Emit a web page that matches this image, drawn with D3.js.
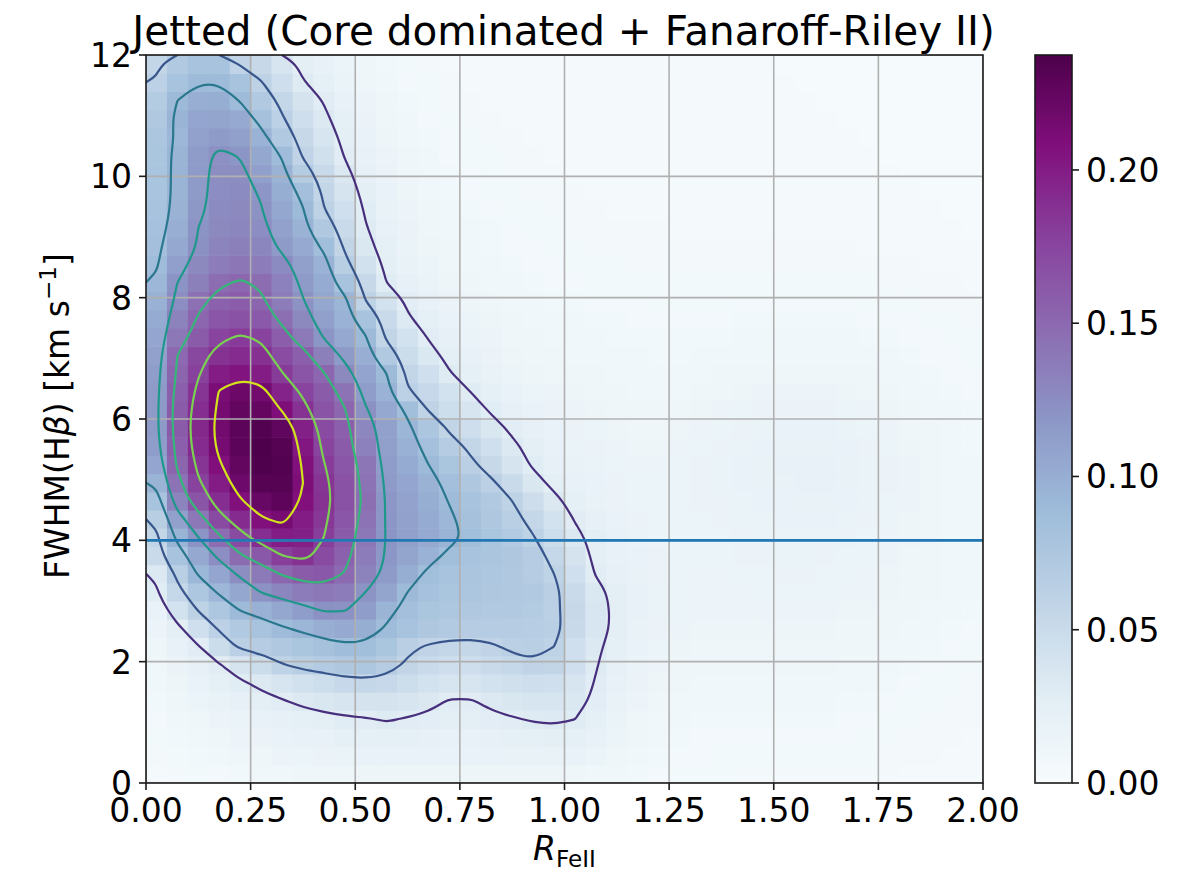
<!DOCTYPE html>
<html>
<head>
<meta charset="utf-8">
<script src="https://cdn.jsdelivr.net/npm/d3@7"></script>
<style>
  body { margin: 0; background: #ffffff; }
  text { font-family: "DejaVu Sans", sans-serif; fill: #000; }
</style>
</head>
<body>
<svg id="chart" width="1192" height="871"></svg>
<script>
// ---- data -------------------------------------------------------------
const titleText = "Jetted (Core dominated + Fanaroff-Riley II)";
const rFeIIDomain = [0, 2];
const fwhmDomain = [0, 12];
const xTicks = [0, 0.25, 0.5, 0.75, 1.0, 1.25, 1.5, 1.75, 2.0];
const yTicks = [0, 2, 4, 6, 8, 10, 12];
const cbarTicks = [0, 0.05, 0.10, 0.15, 0.20];
const cbarMax = 0.2375;
const contourLevels = [0.03, 0.06, 0.09, 0.12, 0.15, 0.18, 0.21];
const contourNormMax = 0.225;
const fwhmCut = 4;
// BuPu colour map anchors
const buPu = ["#f7fcfd", "#e0ecf4", "#bfd3e6", "#9ebcda", "#8c96c6",
              "#8c6bb1", "#88419d", "#810f7c", "#4d004b"];

// Density on a 40 x 40 grid (R_FeII bins of 0.05, FWHM bins of 0.3),
// in units of 1e-3; first row is the lowest FWHM bin.
const densityPerMille = [
  [4,5,6,7,8,9,10,11,12,12,13,13,13,13,13,13,13,13,13,13,12,10,9,8,7,6,6,6,5,5,5,5,5,5,5,5,4,4,4,4],
  [5,6,8,9,11,12,14,15,16,17,18,18,18,18,18,18,18,19,19,19,18,15,12,10,8,7,7,6,6,6,6,6,6,6,6,5,5,5,4,4],
  [6,8,10,12,14,16,18,20,21,23,24,24,23,22,21,21,22,23,24,25,24,20,15,11,9,8,7,7,7,7,7,7,7,7,6,6,5,5,5,4],
  [7,9,12,14,17,20,22,24,26,28,29,31,29,27,26,26,27,29,31,32,30,24,17,12,10,9,8,8,8,8,8,8,8,7,7,6,6,5,5,5],
  [8,11,15,19,22,26,29,33,36,38,40,40,38,34,29,29,33,36,38,38,35,27,19,14,11,10,9,9,9,9,9,9,9,8,8,7,6,6,5,5],
  [9,13,18,23,28,33,38,43,48,53,55,53,48,42,38,38,41,44,46,45,38,29,21,16,13,11,10,10,10,10,10,10,10,9,9,8,7,6,6,5],
  [10,16,22,29,39,49,59,66,70,74,75,68,57,50,46,46,50,54,58,57,45,31,22,17,14,12,11,11,11,11,11,11,11,10,10,9,8,7,6,6],
  [12,20,29,49,63,68,73,78,83,87,86,78,64,58,55,55,58,63,65,60,45,33,24,18,15,13,12,12,12,12,12,12,12,11,11,10,9,8,7,6],
  [14,26,45,62,72,80,88,94,99,103,100,88,80,74,70,68,68,68,67,65,51,37,26,19,16,14,13,13,13,13,13,13,13,12,12,11,10,9,8,7],
  [18,41,61,75,91,98,105,113,122,121,113,95,85,78,75,73,72,71,69,63,52,37,26,20,17,15,14,14,14,14,14,14,14,13,13,12,11,10,9,8],
  [28,54,75,93,105,121,130,137,140,136,120,108,90,82,78,76,74,73,71,64,50,35,25,21,17,15,14,14,14,15,15,15,15,14,14,13,12,11,10,9],
  [33,65,92,106,124,138,152,160,162,149,132,115,100,86,80,77,75,73,68,60,45,29,22,19,16,15,14,14,15,15,16,16,15,15,14,13,12,11,10,9],
  [50,80,104,125,148,162,180,187,172,156,136,118,108,97,86,80,77,74,68,54,40,26,21,18,16,15,15,15,16,16,17,17,16,15,15,14,12,11,10,9],
  [56,95,120,147,172,190,200,198,180,160,140,119,111,103,95,86,78,70,61,48,34,25,20,17,15,15,15,15,16,17,17,17,17,16,15,14,13,11,10,9],
  [66,110,140,172,192,208,214,200,184,163,143,118,110,102,93,83,74,65,55,42,29,22,18,16,15,15,15,16,17,17,18,18,18,17,16,15,13,12,10,9],
  [80,131,164,190,208,222,228,207,187,166,146,118,109,100,89,80,71,60,47,34,24,19,16,15,15,15,16,16,17,18,18,19,19,18,17,15,14,12,10,9],
  [95,143,177,200,219,232,232,210,185,166,143,116,106,96,85,74,63,50,36,26,21,18,16,15,15,15,16,17,18,19,19,20,20,19,17,16,14,12,10,9],
  [106,153,185,208,225,236,234,208,181,163,141,113,102,90,78,64,52,39,28,22,19,17,15,14,14,15,16,17,18,19,20,20,20,19,17,16,14,12,10,9],
  [113,157,191,214,229,237,232,203,176,160,133,111,98,84,68,56,45,33,25,20,17,16,14,13,13,14,15,16,17,18,19,19,19,18,16,15,13,11,10,8],
  [116,160,193,216,229,234,226,198,172,157,129,110,94,76,57,46,36,27,22,18,16,15,13,12,12,13,14,15,16,17,18,18,18,17,15,14,12,11,9,8],
  [116,160,190,214,225,224,209,187,165,151,122,104,86,59,48,38,28,22,18,16,14,13,12,11,11,12,13,14,15,16,16,16,16,15,14,13,11,10,9,8],
  [115,157,185,211,220,216,196,176,160,143,113,97,62,53,42,30,23,18,15,14,13,12,11,10,10,10,11,12,13,14,14,14,14,13,12,11,10,9,8,7],
  [113,153,178,200,205,200,181,164,151,128,107,90,56,45,31,24,19,15,13,12,11,11,10,9,9,9,10,11,11,12,12,12,12,11,11,10,9,8,7,7],
  [110,150,173,187,192,188,170,157,134,115,99,72,49,35,26,20,16,13,12,11,10,10,9,9,8,8,9,9,10,10,10,10,10,10,9,9,8,7,7,6],
  [106,140,160,176,182,177,158,139,119,104,91,57,42,29,22,17,14,12,11,10,9,9,8,8,8,8,8,8,9,9,9,9,9,9,8,8,7,7,6,6],
  [102,132,152,163,166,161,146,128,111,97,80,50,32,24,18,15,13,11,10,9,9,8,8,7,7,7,7,7,8,8,8,8,8,8,7,7,7,6,6,5],
  [98,125,145,156,159,153,137,121,105,94,60,42,27,20,16,13,11,10,9,8,8,7,7,7,6,6,6,6,7,7,7,7,7,7,6,6,6,5,5,5],
  [93,120,134,147,152,147,133,116,102,80,52,30,22,17,13,11,10,9,8,7,7,6,6,6,6,6,6,6,6,6,6,6,6,6,6,5,5,5,5,4],
  [88,112,128,137,141,137,126,111,97,66,43,26,19,15,12,10,9,8,7,7,6,6,6,5,5,5,5,5,5,5,5,5,5,5,5,5,5,4,4,4],
  [85,104,122,131,134,130,116,103,86,57,35,23,17,13,11,9,8,7,7,6,6,5,5,5,5,5,5,5,5,5,5,5,5,5,4,4,4,4,4,4],
  [82,99,120,128,130,125,110,96,73,50,31,21,16,12,10,9,8,7,6,6,5,5,5,5,5,4,4,4,4,4,4,4,4,4,4,4,4,4,4,3],
  [80,96,117,126,128,121,105,91,61,45,28,19,14,11,9,8,7,6,6,5,5,5,4,4,4,4,4,4,4,4,4,4,4,4,4,4,4,4,3,3],
  [79,95,116,125,126,118,100,85,56,39,25,18,13,10,8,7,6,6,5,5,5,4,4,4,4,4,4,4,4,4,4,4,4,4,4,4,4,3,3,3],
  [79,95,116,124,124,112,96,69,51,34,22,16,12,9,8,7,6,5,5,5,4,4,4,4,4,4,4,4,4,4,4,4,4,4,4,4,3,3,3,3],
  [78,95,114,123,119,105,88,58,44,29,20,14,11,9,7,6,6,5,5,4,4,4,4,4,4,4,4,4,4,4,4,4,4,4,4,3,3,3,3,3],
  [76,93,110,115,111,97,72,52,38,26,18,13,10,8,7,6,5,5,4,4,4,4,4,4,4,4,4,4,4,4,4,4,4,4,3,3,3,3,3,3],
  [73,95,106,108,103,83,62,46,33,23,16,12,9,7,6,5,5,4,4,4,4,4,4,4,4,4,4,4,4,4,4,4,4,3,3,3,3,3,3,3],
  [69,90,99,100,89,72,55,40,29,20,14,11,8,6,5,5,4,4,4,4,4,4,4,4,4,4,4,4,4,4,4,4,3,3,3,3,3,3,3,3],
  [62,80,89,89,80,61,46,31,24,17,12,9,7,6,5,4,4,4,4,4,4,4,4,4,4,4,4,4,4,4,4,3,3,3,3,3,3,3,3,3],
  [56,72,80,80,58,52,38,26,20,15,11,8,6,5,4,4,4,4,4,4,4,4,4,4,4,4,4,4,4,4,3,3,3,3,3,3,3,3,3,3]
];

// ---- layout -----------------------------------------------------------
const plot = { left: 146, right: 983, top: 55, bottom: 783 };
const cbar = { left: 1035, right: 1072 };
const fontSize = 33;
const nx = densityPerMille[0].length;
const ny = densityPerMille.length;
const dxBin = (rFeIIDomain[1] - rFeIIDomain[0]) / nx;
const dyBin = (fwhmDomain[1] - fwhmDomain[0]) / ny;

const svg = d3.select("#chart");
const x = d3.scaleLinear().domain(rFeIIDomain).range([plot.left, plot.right]);
const y = d3.scaleLinear().domain(fwhmDomain).range([plot.bottom, plot.top]);

const cmap = d3.scaleLinear()
  .domain(buPu.map((_, i) => i / (buPu.length - 1) * cbarMax))
  .range(buPu)
  .interpolate(d3.interpolateRgb)
  .clamp(true);

const defs = svg.append("defs");
defs.append("clipPath").attr("id", "plotClip")
  .append("rect")
  .attr("x", plot.left).attr("y", plot.top)
  .attr("width", plot.right - plot.left).attr("height", plot.bottom - plot.top);

// ---- density cells ----------------------------------------------------
const cells = [];
densityPerMille.forEach((row, j) => row.forEach((v, i) => cells.push({ i, j, v: v / 1000 })));

const gPlot = svg.append("g").attr("clip-path", "url(#plotClip)");
gPlot.append("g").selectAll("rect").data(cells).join("rect")
  .attr("x", d => x(rFeIIDomain[0] + d.i * dxBin))
  .attr("y", d => y(fwhmDomain[0] + (d.j + 1) * dyBin))
  .attr("width", x(dxBin) - x(0) + 0.6)
  .attr("height", y(0) - y(dyBin) + 0.6)
  .attr("fill", d => cmap(d.v));

// ---- grid -------------------------------------------------------------
const gGrid = gPlot.append("g");
gGrid.selectAll("line.gx").data(xTicks).join("line")
  .attr("x1", d => x(d)).attr("x2", d => x(d))
  .attr("y1", plot.top).attr("y2", plot.bottom)
  .attr("stroke", "#b0b0b0").attr("stroke-width", 1.6);
gGrid.selectAll("line.gy").data(yTicks).join("line")
  .attr("y1", d => y(d)).attr("y2", d => y(d))
  .attr("x1", plot.left).attr("x2", plot.right)
  .attr("stroke", "#b0b0b0").attr("stroke-width", 1.6);

// ---- contour lines ----------------------------------------------------
const flat = [];
densityPerMille.forEach(row => row.forEach(v => flat.push(v / 1000)));
const contours = d3.contours().size([nx, ny]).thresholds(contourLevels)(flat);

const gx = c => x(rFeIIDomain[0] + c * dxBin);
const gy = c => y(fwhmDomain[0] + c * dyBin);
const onEdge = p => p[0] <= 0 || p[0] >= nx || p[1] <= 0 || p[1] >= ny;

// split a ring into open pieces wherever it runs along the grid boundary
function ringPieces(ring) {
  const n = ring.length - 1;
  const pts = ring.slice(0, n);
  const skip = k => onEdge(pts[k]) && onEdge(pts[(k + 1) % n]);
  let start = -1;
  for (let k = 0; k < n; k++) if (skip(k)) { start = k; break; }
  if (start < 0) return [{ closed: true, pts }];
  const pieces = [];
  let cur = null;
  for (let s = 1; s <= n; s++) {
    const k = (start + s) % n;
    if (skip(k)) {
      if (cur && cur.length > 1) pieces.push({ closed: false, pts: cur });
      cur = null;
    } else {
      if (!cur) cur = [pts[k]];
      cur.push(pts[(k + 1) % n]);
    }
  }
  if (cur && cur.length > 1) pieces.push({ closed: false, pts: cur });
  return pieces;
}

const openLine = d3.line().x(p => gx(p[0])).y(p => gy(p[1])).curve(d3.curveBasis);
const closedLine = d3.line().x(p => gx(p[0])).y(p => gy(p[1])).curve(d3.curveBasisClosed);

function levelPath(multi) {
  let d = "";
  for (const polygon of multi.coordinates) {
    for (const ring of polygon) {
      for (const piece of ringPieces(ring)) {
        d += (piece.closed ? closedLine : openLine)(piece.pts);
      }
    }
  }
  return d;
}

gPlot.append("g").selectAll("path").data(contours).join("path")
  .attr("d", levelPath)
  .attr("fill", "none")
  .attr("stroke", d => d3.interpolateViridis(Math.min(1, d.value / contourNormMax)))
  .attr("stroke-width", 2.2)
  .attr("stroke-linejoin", "round");

// ---- FWHM threshold line ------------------------------------------------
gPlot.append("line")
  .attr("x1", x(rFeIIDomain[0])).attr("x2", x(rFeIIDomain[1]))
  .attr("y1", y(fwhmCut)).attr("y2", y(fwhmCut))
  .attr("stroke", "#1f77b4").attr("stroke-width", 2.6);

// ---- axes frame, ticks, labels ----------------------------------------
svg.append("rect")
  .attr("x", plot.left).attr("y", plot.top)
  .attr("width", plot.right - plot.left).attr("height", plot.bottom - plot.top)
  .attr("fill", "none").attr("stroke", "#1a1a1a").attr("stroke-width", 1.6);

const fmt2 = d3.format(".2f");
const gXT = svg.append("g");
gXT.selectAll("line").data(xTicks).join("line")
  .attr("x1", d => x(d)).attr("x2", d => x(d))
  .attr("y1", plot.bottom).attr("y2", plot.bottom + 7)
  .attr("stroke", "#1a1a1a").attr("stroke-width", 1.6);
gXT.selectAll("text").data(xTicks).join("text")
  .attr("x", d => x(d)).attr("y", plot.bottom + 39)
  .attr("text-anchor", "middle").attr("font-size", fontSize)
  .text(d => fmt2(d));

const gYT = svg.append("g");
gYT.selectAll("line").data(yTicks).join("line")
  .attr("x1", plot.left - 7).attr("x2", plot.left)
  .attr("y1", d => y(d)).attr("y2", d => y(d))
  .attr("stroke", "#1a1a1a").attr("stroke-width", 1.6);
gYT.selectAll("text").data(yTicks).join("text")
  .attr("x", plot.left - 14).attr("y", d => y(d) + 12)
  .attr("text-anchor", "end").attr("font-size", fontSize)
  .text(d => d3.format("d")(d));

// axis titles
const xl = svg.append("text")
  .attr("x", (plot.left + plot.right) / 2).attr("y", 860)
  .attr("text-anchor", "middle").attr("font-size", fontSize);
xl.append("tspan").attr("font-style", "italic").text("R");
xl.append("tspan").attr("dy", 7).attr("font-size", fontSize * 0.7).text("FeII");

const yl = svg.append("text")
  .attr("transform", `translate(69,${(plot.top + plot.bottom) / 2 - 3}) rotate(-90)`)
  .attr("text-anchor", "middle").attr("font-size", fontSize);
yl.append("tspan").text("FWHM(H");
yl.append("tspan").attr("font-style", "italic").text("β");
yl.append("tspan").text(") [km s");
yl.append("tspan").attr("dy", -13).attr("font-size", fontSize * 0.7).text("−1");
yl.append("tspan").attr("dy", 13).text("]");

svg.append("text")
  .attr("x", (plot.left + plot.right) / 2 - 1).attr("y", 45)
  .attr("text-anchor", "middle").attr("font-size", 40.5)
  .text(titleText);

// ---- colour bar ---------------------------------------------------------
const cy = d3.scaleLinear().domain([0, cbarMax]).range([plot.bottom, plot.top]);
const grad = defs.append("linearGradient").attr("id", "cbarGrad")
  .attr("x1", 0).attr("y1", 1).attr("x2", 0).attr("y2", 0);
d3.range(0, 1.0001, 0.02).forEach(t => {
  grad.append("stop").attr("offset", t).attr("stop-color", cmap(t * cbarMax));
});
svg.append("rect")
  .attr("x", cbar.left).attr("y", plot.top)
  .attr("width", cbar.right - cbar.left).attr("height", plot.bottom - plot.top)
  .attr("fill", "url(#cbarGrad)")
  .attr("stroke", "#1a1a1a").attr("stroke-width", 1.6);
const gCT = svg.append("g");
gCT.selectAll("line").data(cbarTicks).join("line")
  .attr("x1", cbar.right).attr("x2", cbar.right + 7)
  .attr("y1", d => cy(d)).attr("y2", d => cy(d))
  .attr("stroke", "#1a1a1a").attr("stroke-width", 1.6);
gCT.selectAll("text").data(cbarTicks).join("text")
  .attr("x", cbar.right + 14).attr("y", d => cy(d) + 12)
  .attr("font-size", fontSize)
  .text(d => fmt2(d));
</script>
</body>
</html>
